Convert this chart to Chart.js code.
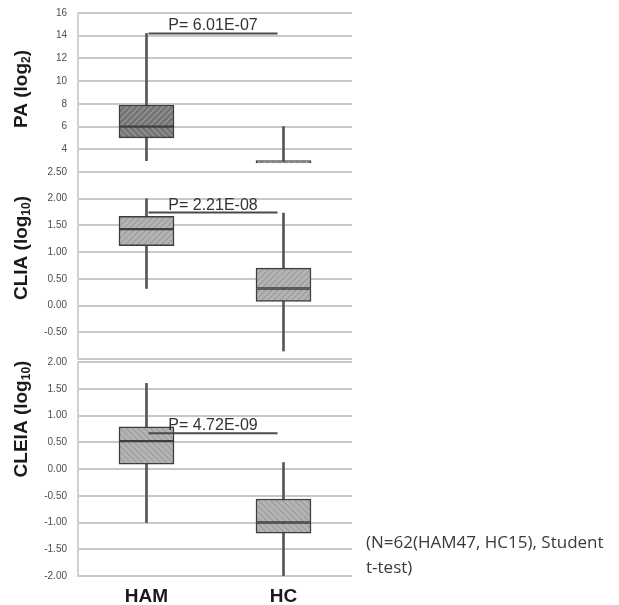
<!DOCTYPE html>
<html lang="en">
<head>
<meta charset="UTF-8">
<title>PA / CLIA / CLEIA in HAM vs HC</title>
<script src="https://cdn.jsdelivr.net/npm/chart.js@4.4.1/dist/chart.umd.min.js"></script>
<style>
    html, body { margin: 0; padding: 0; background: #fff; }
    body { width: 619px; height: 605px; position: relative; overflow: hidden; }
    canvas { position: absolute; left: 0; }
    #note {
        position: absolute; left: 366px; top: 529px;
        font-family: 'Open Sans', sans-serif; font-size: 17px; line-height: 25px; color: #3a3a3a;
    }
</style>
</head>
<body>
<canvas id="paChart" width="619" height="180" style="top:0px"></canvas>
<canvas id="cliaChart" width="619" height="205" style="top:160px"></canvas>
<canvas id="cleiaChart" width="619" height="255" style="top:350px"></canvas>
<div id="note">(N=62(HAM47, HC15), Student<br>t-test)</div>

<script>
    const groups = ['HAM', 'HC'];

    // PA (log2)
    const paMin = [3.0, 2.9];
    const paQ1 = [5.0, 2.8];
    const paMedian = [6.0, 2.9];
    const paQ3 = [7.9, 3.0];
    const paMax = [14.2, 6.0];

    // CLIA (log10)
    const cliaMin = [0.32, -0.85];
    const cliaQ1 = [1.12, 0.08];
    const cliaMedian = [1.43, 0.32];
    const cliaQ3 = [1.67, 0.70];
    const cliaMax = [2.00, 1.73];

    // CLEIA (log10)
    const cleiaMin = [-1.00, -2.00];
    const cleiaQ1 = [0.09, -1.20];
    const cleiaMedian = [0.52, -1.00];
    const cleiaQ3 = [0.79, -0.56];
    const cleiaMax = [1.60, 0.12];

    // t-test results and the height of their bracket
    const pTexts = ['P= 6.01E-07', 'P= 2.21E-08', 'P= 4.72E-09'];
    const pLevels = [14.2, 1.74, 0.67];

    // y axes
    const yMins = [2, -1, -2];
    const yMaxs = [16, 2.5, 2];
    const ySteps = [2, 0.5, 0.5];

    // hatched fills
    function hatch(bg, line, dir) {
        const c = document.createElement('canvas');
        c.width = 6; c.height = 6;
        const g = c.getContext('2d');
        g.fillStyle = bg;
        g.fillRect(0, 0, 6, 6);
        g.strokeStyle = line;
        g.lineWidth = 1.2;
        g.beginPath();
        if (dir > 0) {
            g.moveTo(-1, 7); g.lineTo(7, -1);
            g.moveTo(-4, 4); g.lineTo(4, -4);
            g.moveTo(2, 10); g.lineTo(10, 2);
        } else {
            g.moveTo(-1, -1); g.lineTo(7, 7);
            g.moveTo(-4, 2); g.lineTo(4, 10);
            g.moveTo(2, -4); g.lineTo(10, 4);
        }
        g.stroke();
        return g.createPattern(c, 'repeat');
    }
    const darkUp = hatch('#747474', '#9c9c9c', 1);
    const darkDown = hatch('#747474', '#9c9c9c', -1);
    const lightUp = hatch('#b4b4b4', '#9a9a9a', 1);
    const lightDown = hatch('#b4b4b4', '#9a9a9a', -1);

    function drawTitle(ctx, parts, cx, cy) {
        const big = 'bold 19px "Liberation Sans", Arial, sans-serif';
        const small = 'bold 12px "Liberation Sans", Arial, sans-serif';
        ctx.font = big;
        const w0 = ctx.measureText(parts[0]).width;
        const w2 = ctx.measureText(parts[2]).width;
        ctx.font = small;
        const w1 = ctx.measureText(parts[1]).width;
        ctx.save();
        ctx.translate(cx, cy);
        ctx.rotate(-Math.PI / 2);
        ctx.fillStyle = '#1a1a1a';
        ctx.textAlign = 'left';
        ctx.textBaseline = 'middle';
        let x = -(w0 + w1 + w2) / 2;
        ctx.font = big; ctx.fillText(parts[0], x, 0); x += w0;
        ctx.font = small; ctx.fillText(parts[1], x, 5); x += w1;
        ctx.font = big; ctx.fillText(parts[2], x, 0);
        ctx.restore();
    }

    // p-value bracket and the side title
    const panelDecor = {
        id: 'panelDecor',
        afterDatasetsDraw(chart, args, opts) {
            const { ctx, scales: { x, y } } = chart;
            const yl = y.getPixelForValue(opts.pLevel);
            const x0 = x.getPixelForValue(0) + 2;
            const x1 = x.getPixelForValue(1) - 6;
            ctx.save();
            ctx.strokeStyle = '#4a4a4a';
            ctx.lineWidth = 2;
            ctx.beginPath();
            ctx.moveTo(x0, yl);
            ctx.lineTo(x1, yl);
            ctx.stroke();
            ctx.font = '16px "Liberation Sans", Arial, sans-serif';
            ctx.fillStyle = '#333';
            ctx.textAlign = 'center';
            ctx.textBaseline = 'alphabetic';
            ctx.fillText(opts.pText, (x0 + x1) / 2, yl - 3);
            ctx.restore();
            drawTitle(ctx, opts.title, 22, opts.titleY);
        }
    };

    function makePanel(id, i, mins, q1, med, q3, maxs, fills, cfg) {
        const low = groups.map((g, k) => [q1[k], med[k]]);
        const high = groups.map((g, k) => [med[k], q3[k]]);
        const whisk = groups.map((g, k) => [mins[k], maxs[k]]);
        const fmt = cfg.fmt;
        return new Chart(document.getElementById(id), {
            type: 'bar',
            data: {
                labels: groups,
                datasets: [
                    { data: high, backgroundColor: fills.high, borderColor: '#3d3d3d', borderWidth: 1.5,
                      borderSkipped: false, barThickness: 55, grouped: false, order: 0 },
                    { data: low, backgroundColor: fills.low, borderColor: '#3d3d3d', borderWidth: 1.5,
                      borderSkipped: false, barThickness: 55, grouped: false, order: 1 },
                    { data: whisk, backgroundColor: '#555', borderWidth: 0,
                      barThickness: 2, grouped: false, order: 2 }
                ]
            },
            options: {
                responsive: false,
                animation: false,
                devicePixelRatio: 1,
                layout: { padding: { top: cfg.padTop, bottom: cfg.padBottom, left: 0, right: 267 } },
                plugins: {
                    legend: { display: false },
                    tooltip: { enabled: false },
                    panelDecor: { pText: pTexts[i], pLevel: pLevels[i], title: cfg.title, titleY: cfg.titleY }
                },
                scales: {
                    x: {
                        display: cfg.showX,
                        grid: { display: false, drawTicks: false },
                        border: { display: false },
                        ticks: { padding: 9, color: '#1a1a1a',
                                 font: { family: '"Liberation Sans", Arial, sans-serif', size: 19, weight: 'bold' } },
                        afterFit(s) {
                            s.height = cfg.showX ? 29 : 0;
                            s.paddingLeft = 0; s.paddingRight = 0;
                        }
                    },
                    y: {
                        min: yMins[i],
                        max: yMaxs[i],
                        grid: { color: '#c8c8c8', lineWidth: 2, drawTicks: false },
                        border: { display: true, color: '#d0d0d0', width: 2 },
                        ticks: {
                            stepSize: ySteps[i],
                            padding: 11,
                            color: '#4d4d4d',
                            font: { family: '"Liberation Sans", Arial, sans-serif', size: 10 },
                            callback: v => (cfg.hide.includes(v) ? '' : fmt(v))
                        },
                        afterFit(s) {
                            s.width = 78;
                            s.paddingTop = 0; s.paddingBottom = 0;
                        }
                    }
                }
            },
            plugins: [panelDecor]
        });
    }

    makePanel('paChart', 0, paMin, paQ1, paMedian, paQ3, paMax,
        { high: [darkUp, darkUp], low: [darkDown, darkDown] },
        { padTop: 13, padBottom: 8, showX: false, hide: [2], fmt: v => String(v),
          title: ['PA (log', '2', ')'], titleY: 89 });

    makePanel('cliaChart', 1, cliaMin, cliaQ1, cliaMedian, cliaQ3, cliaMax,
        { high: [lightUp, lightUp], low: [lightUp, lightUp] },
        { padTop: 12, padBottom: 6, showX: false, hide: [-1], fmt: v => v.toFixed(2),
          title: ['CLIA (log', '10', ')'], titleY: 88 });

    makePanel('cleiaChart', 2, cleiaMin, cleiaQ1, cleiaMedian, cleiaQ3, cleiaMax,
        { high: [lightDown, lightDown], low: [lightDown, lightDown] },
        { padTop: 12, padBottom: 0, showX: true, hide: [], fmt: v => v.toFixed(2),
          title: ['CLEIA (log', '10', ')'], titleY: 69 });
</script>
</body>
</html>
